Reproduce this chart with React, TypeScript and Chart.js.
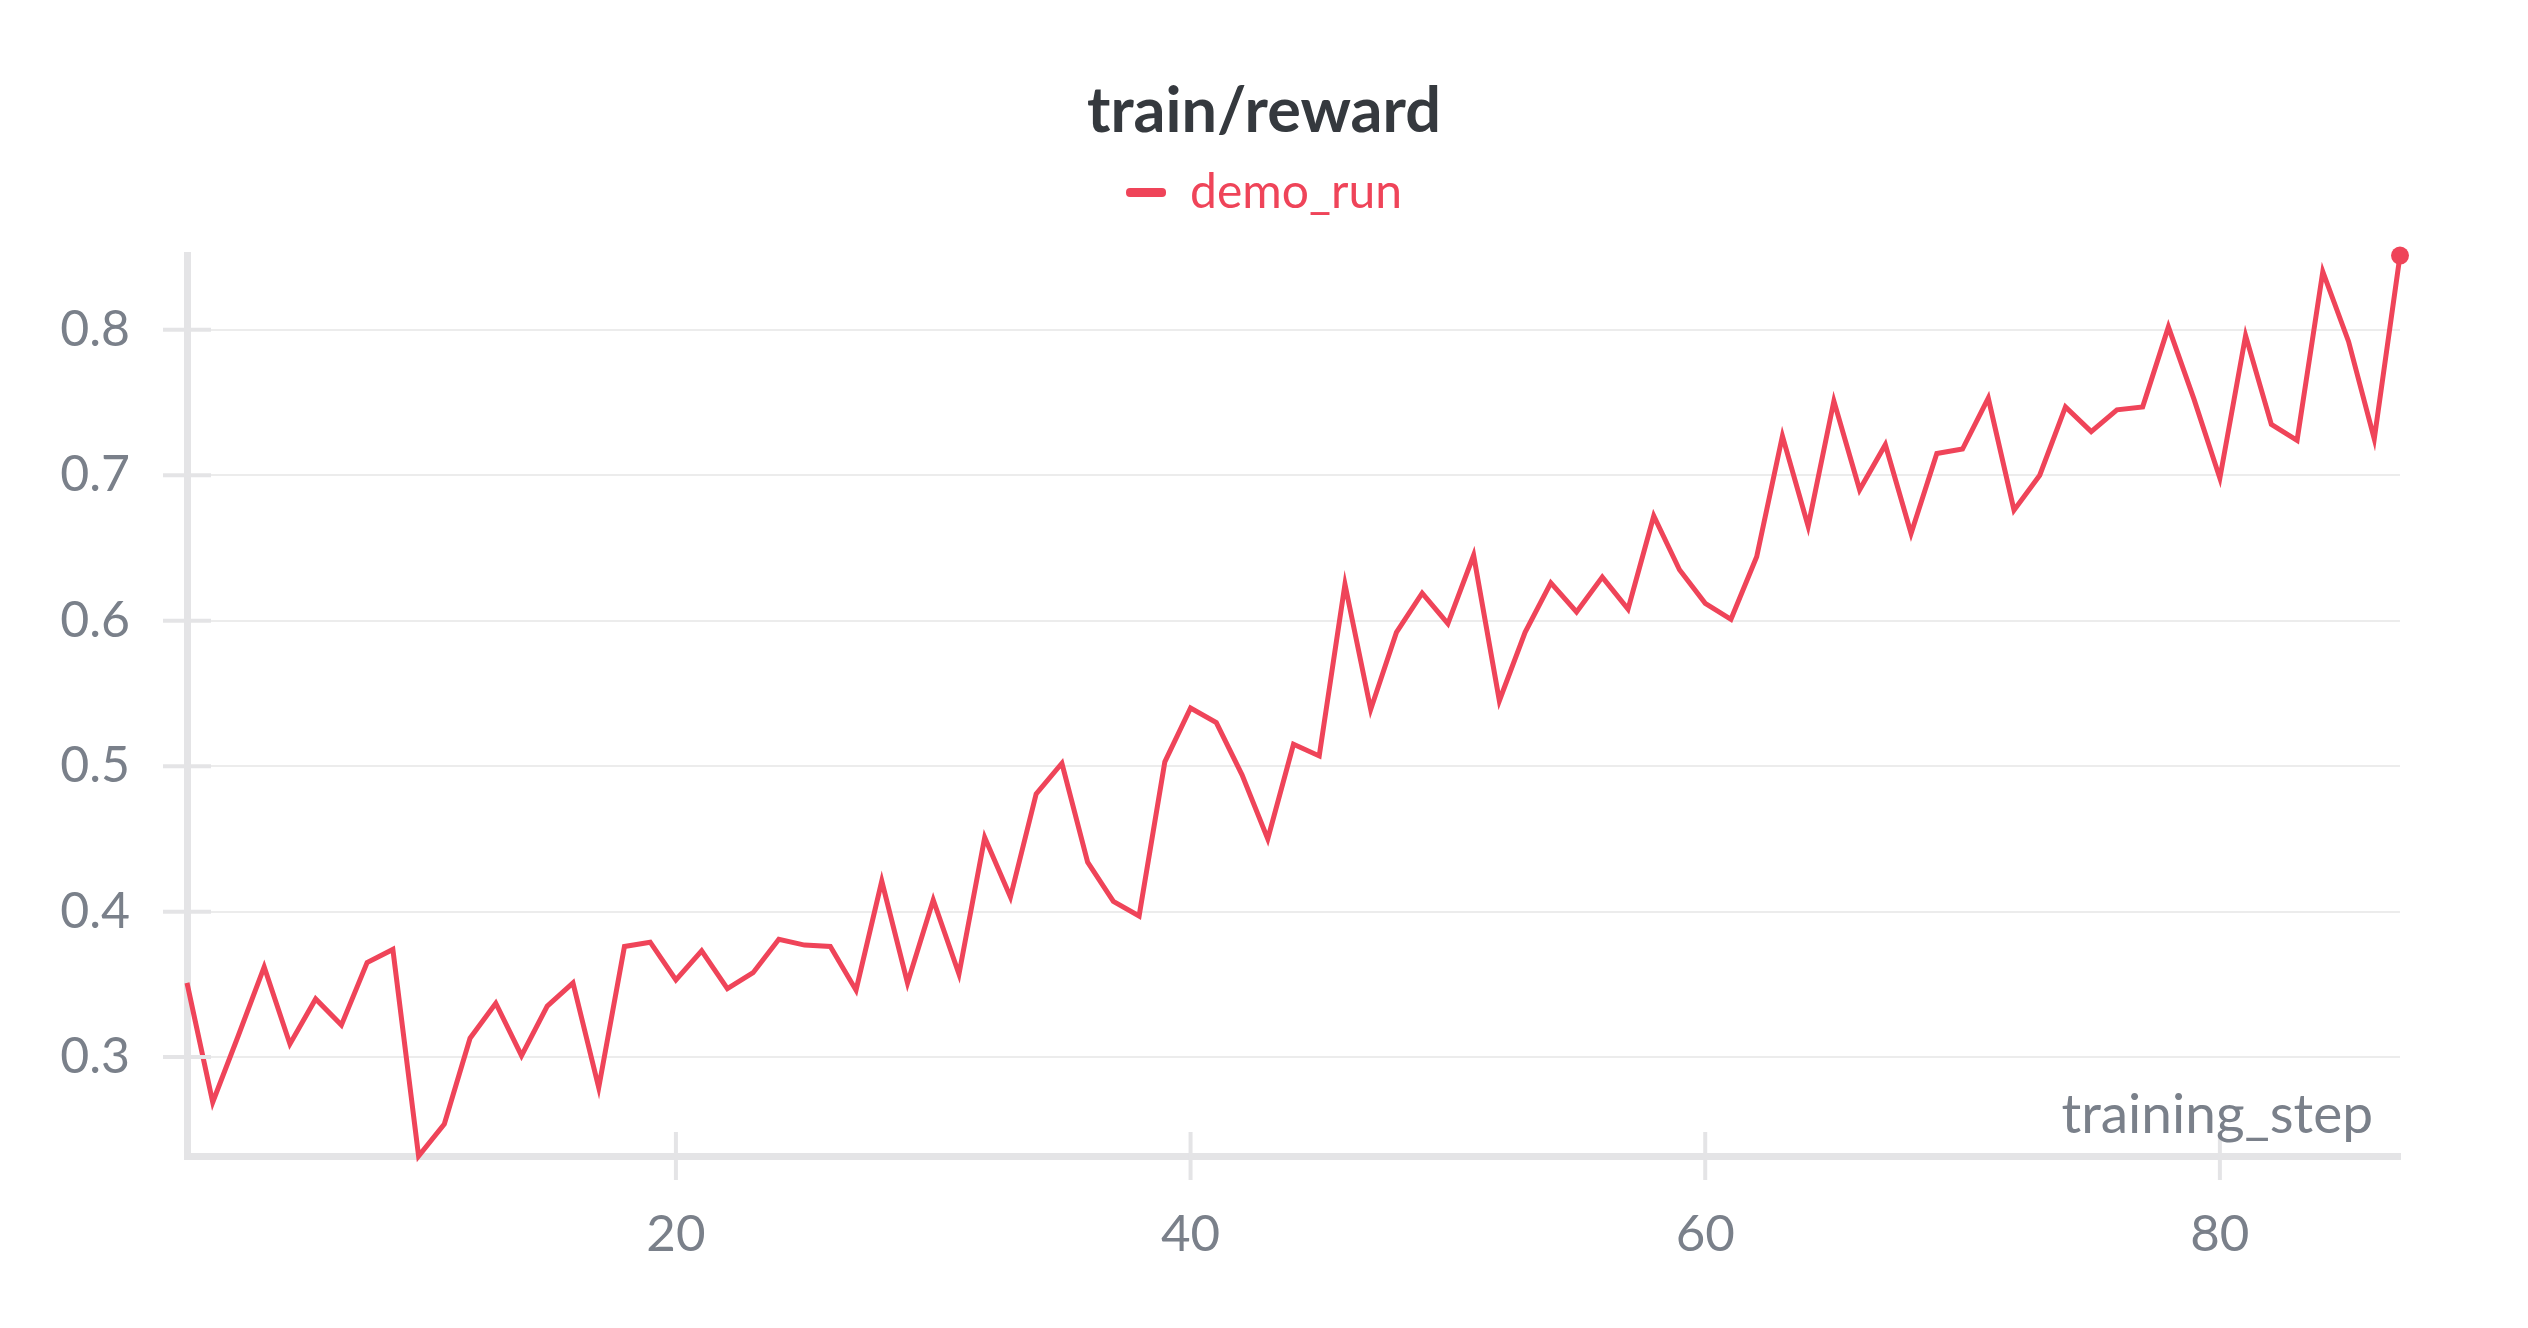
import { useEffect, useRef } from 'react'
import { Chart, registerables, ChartConfiguration, Plugin } from 'chart.js'

Chart.register(...registerables)

// training steps logged for the run
const steps = [
  1, 2, 3, 4, 5, 6, 7, 8, 9, 10, 11, 12, 13, 14, 15, 16, 17, 18, 19, 20,
  21, 22, 23, 24, 25, 26, 27, 28, 29, 30, 31, 32, 33, 34, 35, 36, 37, 38, 39, 40,
  41, 42, 43, 44, 45, 46, 47, 48, 49, 50, 51, 52, 53, 54, 55, 56, 57, 58, 59, 60,
  61, 62, 63, 64, 65, 66, 67, 68, 69, 70, 71, 72, 73, 74, 75, 76, 77, 78, 79, 80,
  81, 82, 83, 84, 85, 86, 87
]

// train/reward values
const rewards = [
  0.351, 0.269, 0.315, 0.362, 0.309, 0.340, 0.322, 0.365, 0.374, 0.232,
  0.254, 0.313, 0.337, 0.301, 0.335, 0.351, 0.279, 0.376, 0.379, 0.353,
  0.373, 0.347, 0.358, 0.381, 0.377, 0.376, 0.346, 0.421, 0.351, 0.408,
  0.357, 0.451, 0.410, 0.481, 0.502, 0.434, 0.407, 0.397, 0.503, 0.540,
  0.530, 0.494, 0.450, 0.515, 0.507, 0.625, 0.539, 0.592, 0.619, 0.598,
  0.645, 0.545, 0.592, 0.626, 0.606, 0.630, 0.608, 0.672, 0.635, 0.612,
  0.601, 0.644, 0.727, 0.665, 0.751, 0.690, 0.721, 0.660, 0.715, 0.718,
  0.753, 0.676, 0.700, 0.747, 0.730, 0.745, 0.747, 0.802, 0.752, 0.698,
  0.796, 0.735, 0.724, 0.840, 0.792, 0.725, 0.851
]

const RUN_NAME = 'demo_run'
const CHART_TITLE = 'train/reward'
const X_LABEL = 'training_step'

const RUN_COLOR = '#ef4459'
const TEXT_GRAY = '#7a808a'
const AXIS_GRAY = '#e4e4e6'
const GRID_GRAY = '#ececec'
const FONT = 'Lato, "Noto Sans", sans-serif'

// small tick stubs that straddle both axes, plus the in-plot x label
const axisDecorations: Plugin<'line'> = {
  id: 'axisDecorations',
  afterDraw(chart) {
    const { ctx, chartArea, scales } = chart
    const x = scales.x
    const y = scales.y
    ctx.save()
    ctx.strokeStyle = AXIS_GRAY
    ctx.lineWidth = 4
    y.ticks.forEach((t) => {
      const py = y.getPixelForValue(t.value)
      ctx.beginPath()
      ctx.moveTo(chartArea.left - 24, py)
      ctx.lineTo(chartArea.left + 24, py)
      ctx.stroke()
    })
    x.ticks.forEach((t) => {
      const px = x.getPixelForValue(t.value)
      ctx.beginPath()
      ctx.moveTo(px, chartArea.bottom - 24)
      ctx.lineTo(px, chartArea.bottom + 24)
      ctx.stroke()
    })
    ctx.fillStyle = TEXT_GRAY
    ctx.font = `55px ${FONT}`
    ctx.textAlign = 'right'
    ctx.textBaseline = 'alphabetic'
    ctx.fillText(X_LABEL, chartArea.right - 27, chartArea.bottom - 23)
    ctx.restore()
  }
}

// empty spacer axes so the plot area sits where the reference has it
const spacer = (position: 'top' | 'right', size: number) => ({
  type: 'linear' as const,
  position,
  display: true,
  min: 0,
  max: 1,
  grid: { display: false, drawTicks: false },
  border: { display: false },
  ticks: { display: false },
  afterFit: (s: any) => {
    if (position === 'top') s.height = size
    else s.width = size
  }
})

const buildConfig = (): ChartConfiguration<'line'> => {
  const lastIndex = rewards.length - 1
  return {
    type: 'line',
    data: {
      datasets: [
        {
          label: RUN_NAME,
          data: steps.map((s, i) => ({ x: s, y: rewards[i] })),
          borderColor: RUN_COLOR,
          backgroundColor: RUN_COLOR,
          borderWidth: 5,
          tension: 0,
          clip: false,
          pointRadius: (c) => (c.dataIndex === lastIndex ? 9 : 0),
          pointBorderWidth: 0,
          pointHoverRadius: 0
        }
      ]
    },
    options: {
      animation: false,
      responsive: false,
      maintainAspectRatio: false,
      layout: { padding: 0 },
      plugins: {
        title: {
          display: true,
          text: CHART_TITLE,
          color: '#35393e',
          font: { family: FONT, size: 63, weight: 'bold', lineHeight: 1.2 },
          padding: { top: 74, bottom: 9 }
        },
        legend: {
          display: true,
          labels: {
            color: RUN_COLOR,
            font: { family: FONT, size: 48 },
            boxWidth: 40,
            boxHeight: 9,
            useBorderRadius: true,
            borderRadius: 4,
            padding: 10,
            // flat swatch, no stroke around it
            generateLabels: (chart) =>
              Chart.defaults.plugins.legend.labels
                .generateLabels(chart)
                .map((item) => ({ ...item, lineWidth: 0 }))
          }
        },
        tooltip: { enabled: false }
      },
      scales: {
        x: {
          type: 'linear',
          min: steps[0],
          max: steps[steps.length - 1],
          afterFit: (s) => {
            s.height = 172
          },
          grid: { display: false, drawTicks: false },
          border: { display: true, width: 7, color: AXIS_GRAY },
          ticks: {
            stepSize: 20,
            includeBounds: false,
            color: TEXT_GRAY,
            font: { family: FONT, size: 51 },
            padding: 48,
            maxRotation: 0
          }
        },
        y: {
          type: 'linear',
          min: Math.min(...rewards),
          max: Math.max(...rewards),
          afterFit: (s) => {
            s.width = 187
          },
          grid: { color: GRID_GRAY, lineWidth: 2, drawTicks: false },
          border: { display: true, width: 7, color: AXIS_GRAY },
          ticks: {
            stepSize: 0.1,
            includeBounds: false,
            color: TEXT_GRAY,
            font: { family: FONT, size: 50 },
            padding: 57
          }
        },
        xTopSpacer: { ...spacer('top', 29), axis: 'x' },
        yRightSpacer: { ...spacer('right', 128), axis: 'y' }
      } as any
    },
    plugins: [axisDecorations]
  }
}

const RewardChart = () => {
  const canvasRef = useRef<HTMLCanvasElement>(null)

  useEffect(() => {
    if (!canvasRef.current) return
    const chart = new Chart(canvasRef.current, buildConfig())
    return () => chart.destroy()
  }, [])

  return (
    <div style={{ width: '2528px', height: '1328px', background: '#fff' }}>
      <canvas ref={canvasRef} width={2528} height={1328} aria-label="train/reward line chart" />
    </div>
  )
}

const App = () => {
  useEffect(() => {
    document.body.style.margin = '0'
  }, [])
  return <RewardChart />
}

export default App
